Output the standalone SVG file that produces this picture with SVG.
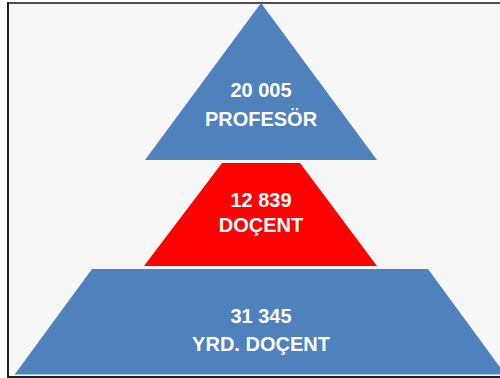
<svg xmlns="http://www.w3.org/2000/svg" width="500" height="378" viewBox="0 0 500 378">
<style>
.blue{fill:#4f81bd}
.red{fill:#ff0000}
.t{font-family:"Liberation Sans",Arial,sans-serif;font-weight:bold;font-size:20px;fill:#ffffff;text-anchor:middle}
</style>
<rect x="0" y="0" width="500" height="378" fill="#ffffff"/>
<rect x="8" y="3" width="494" height="373" fill="#f7f7f7"/>
<path d="M8 3 H500" stroke="#505050" stroke-width="2"/>
<path d="M8 2 V377 H500" stroke="#202020" stroke-width="2" fill="none"/>
<g id="profesor">
<polygon class="blue" points="261,3 377,160 145,160"/>
<text class="t" x="261" y="97">20 005</text>
<text class="t" x="261" y="126">PROFESÖR</text>
</g>
<g id="docent">
<polygon class="red" points="222,163 300,163 377,266 144,266"/>
<text class="t" x="261" y="207">12 839</text>
<text class="t" x="261" y="232">DOÇENT</text>
</g>
<g id="yrd-docent">
<polygon class="blue" points="92,269 428,269 505,374 15,374"/>
<path d="M15 374.5 H500" stroke="#9dc3e6" stroke-width="1"/>
<text class="t" x="261" y="323">31 345</text>
<text class="t" x="261" y="351">YRD. DOÇENT</text>
</g>
<g id="connectors"/>
</svg>
